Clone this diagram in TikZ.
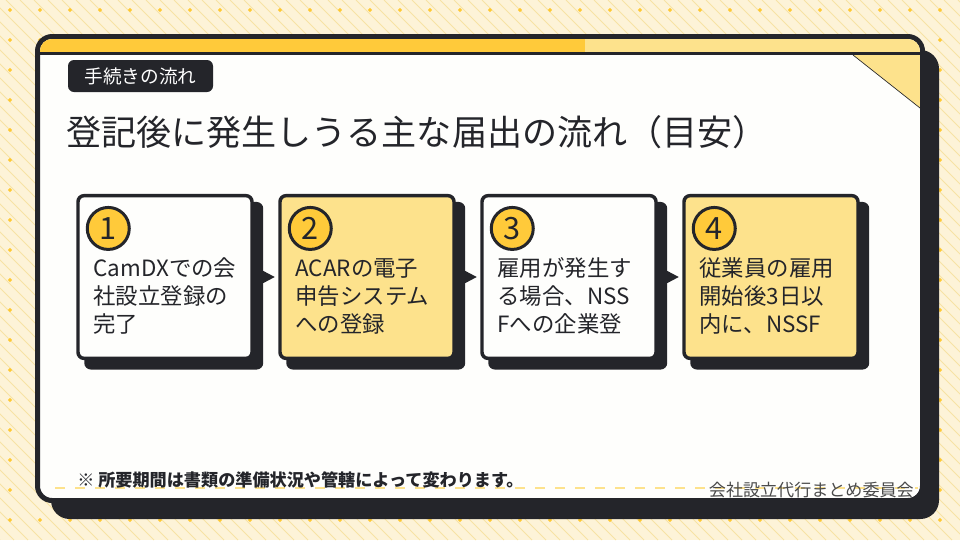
\documentclass[tikz,border=0pt]{standalone}
\usepackage{fontspec}
\setmainfont{Noto Sans CJK JP}
\usetikzlibrary{calc}
\definecolor{bgc}{HTML}{FDF3D8}
\definecolor{stripec}{HTML}{F7E2A4}
\definecolor{dotc}{HTML}{FFC933}
\definecolor{dark}{HTML}{24252A}
\definecolor{yellowc}{HTML}{FFCA3A}
\definecolor{lighty}{HTML}{FDE28C}
\definecolor{cardw}{HTML}{FEFEFC}
\definecolor{grayt}{HTML}{4A4A4A}
\tikzset{
  stepbox/.style={draw=dark, line width=2.6pt, rounded corners=4.5pt, minimum width=130.5pt, minimum height=122pt, inner sep=0pt},
  boxshadow/.style={fill=dark, rounded corners=5pt},
  numc/.style={circle, draw=dark, line width=2.25pt, fill=yellowc, minimum size=31.5pt, inner sep=0pt, text=dark, font=\fontsize{23}{23}\selectfont},
  steptxt/.style={anchor=base west, inner sep=0pt, text=dark, font=\fontsize{16.8}{21}\selectfont},
  tagbox/.style={fill=dark, rounded corners=4.5pt, minimum width=108.75pt, minimum height=24pt, inner sep=0pt, text=white, font=\fontsize{14}{14}\selectfont},
  marker/.style={fill=dark}
}
\begin{document}
\begin{tikzpicture}[x=0.75pt,y=-0.75pt]
\useasboundingbox (0,0) rectangle (960,540);
% background
\fill[bgc] (0,0) rectangle (960,540);
\begin{scope}
\clip (0,0) rectangle (960,540);
\foreach \i in {-540,-526,...,960} \draw[stripec, line width=0.6pt] (\i,0) -- (\i+540,540);
\end{scope}
\foreach \x in {10,40,...,950} \foreach \y in {10,40,...,530}
  \fill[dotc] (\x-2.2,\y) -- (\x,\y-2.2) -- (\x+2.2,\y) -- (\x,\y+2.2) -- cycle;
% card shadow and card
\fill[dark, rounded corners=14pt] (51,50) rectangle (939,519);
\filldraw[fill=cardw, draw=dark, line width=3.75pt, rounded corners=11pt] (37.5,36.5) rectangle (922.5,500.5);
\begin{scope}
\clip[rounded corners=9pt] (40,39) rectangle (920,498);
\fill[lighty] (40,39) rectangle (920,52);
\fill[yellowc] (40,39) rectangle (585,52);
\fill[dark] (40,52) rectangle (920,55);
\fill[lighty] (853,55) -- (920,55) -- (920,108) -- cycle;
\draw[dark, line width=0.5pt] (853,55) -- (920,108);
\end{scope}
% tag and title
\node[tagbox] (tag) at (140.5,76) {手続きの流れ};
\node[anchor=base west, inner sep=0pt, text=dark, font=\fontsize{26.3}{30}\selectfont] (title) at (66,145) {登記後に発生しうる主な届出の流れ（目安）};
% boxes
\node[stepbox, draw=none] (b1) at (165,277) {};
\node[stepbox, draw=none] (b2) at (367,277) {};
\node[stepbox, draw=none] (b3) at (569,277) {};
\node[stepbox, draw=none] (b4) at (771,277) {};
\foreach \b in {b1,b2,b3,b4}
  \fill[boxshadow] ($(\b.north west)+(8,8)$) rectangle ($(\b.south east)+(9.5,9.5)$);
\foreach \b in {b1,b2,b3}
  \fill[marker] ($(\b.east)+(4,-9)$) -- ($(\b.east)+(21,0)$) -- ($(\b.east)+(4,9)$) -- cycle;
\node[stepbox, fill=cardw] (s1) at (b1) {};
\node[stepbox, fill=lighty] (s2) at (b2) {};
\node[stepbox, fill=cardw] (s3) at (b3) {};
\node[stepbox, fill=lighty] (s4) at (b4) {};
\node[numc] (n1) at ($(s1.north west)+(32,34.5)$) {1};
\node[numc] (n2) at ($(s2.north west)+(32,34.5)$) {2};
\node[numc] (n3) at ($(s3.north west)+(32,34.5)$) {3};
\node[numc] (n4) at ($(s4.north west)+(32,34.5)$) {4};
\node[steptxt] (t1a) at ($(s1.north west)+(17,83)$) {CamDXでの会};
\node[steptxt] (t1b) at ($(s1.north west)+(17,111)$) {社設立登録の};
\node[steptxt] (t1c) at ($(s1.north west)+(17,139)$) {完了};
\node[steptxt] (t2a) at ($(s2.north west)+(17,83)$) {ACARの電子};
\node[steptxt] (t2b) at ($(s2.north west)+(17,111)$) {申告システム};
\node[steptxt] (t2c) at ($(s2.north west)+(17,139)$) {への登録};
\node[steptxt] (t3a) at ($(s3.north west)+(17,83)$) {雇用が発生す};
\node[steptxt] (t3b) at ($(s3.north west)+(17,111)$) {る場合、NSS};
\node[steptxt] (t3c) at ($(s3.north west)+(17,139)$) {Fへの企業登};
\node[steptxt] (t4a) at ($(s4.north west)+(17,83)$) {従業員の雇用};
\node[steptxt] (t4b) at ($(s4.north west)+(17,111)$) {開始後3日以};
\node[steptxt] (t4c) at ($(s4.north west)+(17,139)$) {内に、NSSF};
% footer
\draw[lighty, line width=1.5pt, dash pattern=on 7.5pt off 7.5pt] (55,488) -- (918,488);
\node[anchor=base west, inner sep=0pt, text=dark, font=\bfseries\fontsize{12.85}{12.85}\selectfont] (note) at (77,486) {※ 所要期間は書類の準備状況や管轄によって変わります。};
\node[anchor=base east, inner sep=0pt, text=grayt, font=\fontsize{12.8}{12.8}\selectfont] (credit) at (914,496) {会社設立代行まとめ委員会};
\end{tikzpicture}
\end{document}
